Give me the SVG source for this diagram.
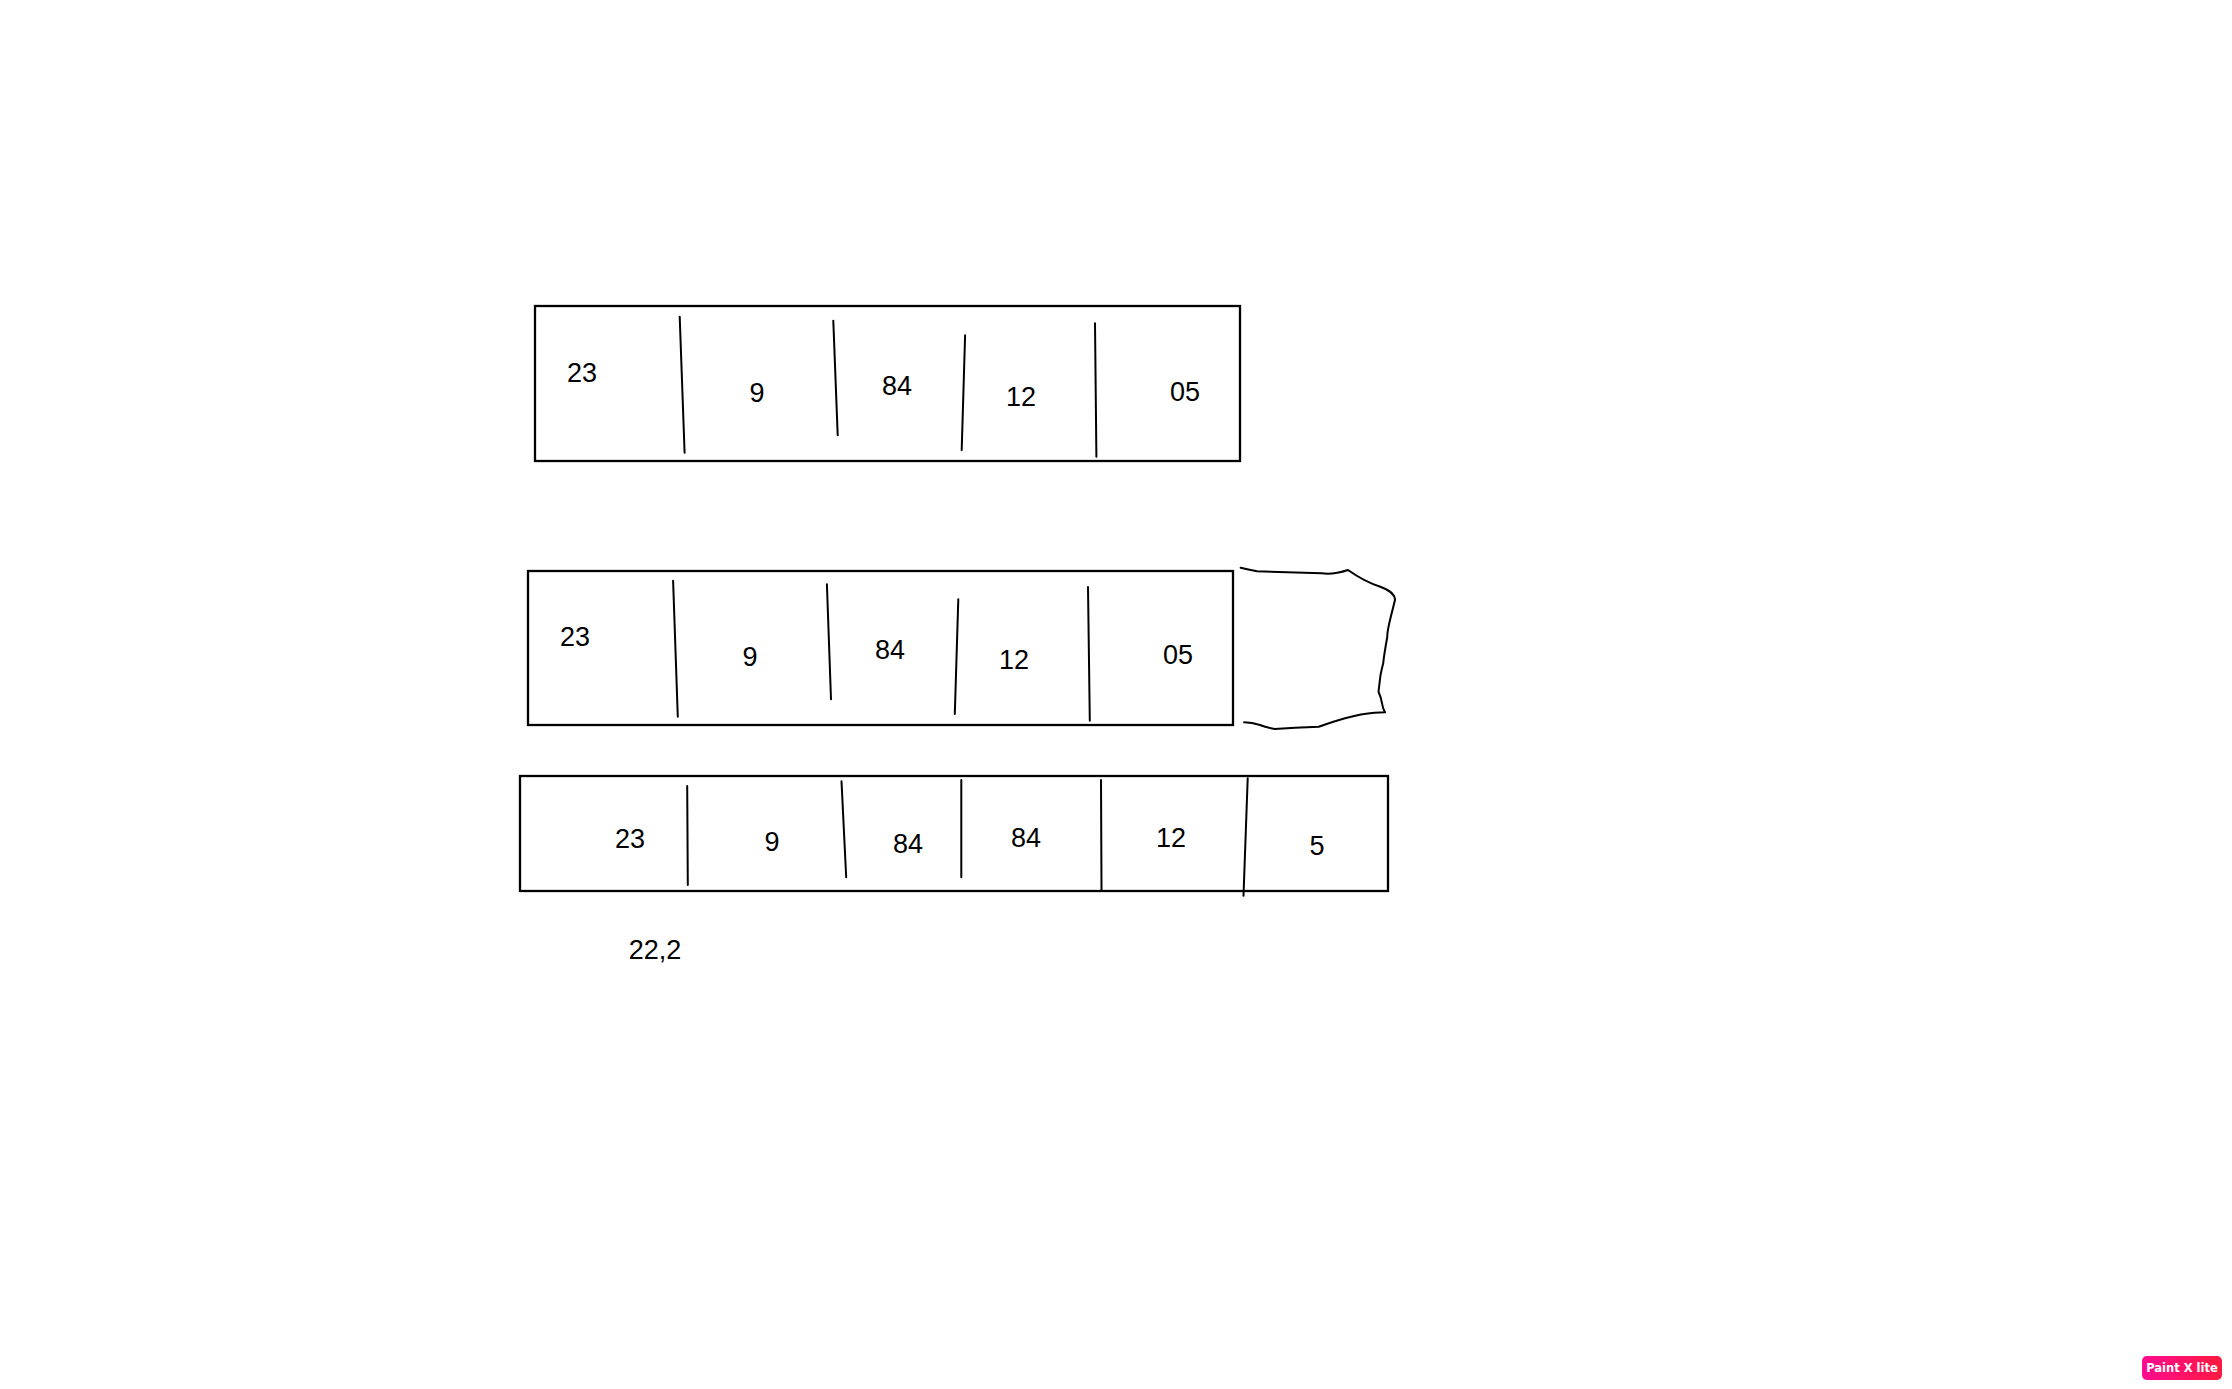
<svg xmlns="http://www.w3.org/2000/svg" width="2232" height="1389" viewBox="0 0 2232 1389">
<style>
.box{fill:none;stroke:#000;stroke-width:2.3}
.div{stroke:#000;stroke-width:2;fill:none;stroke-linecap:round;stroke-linejoin:round}
.t{font-family:"Liberation Sans",Arial,sans-serif;font-size:27px;fill:#000;text-anchor:middle}
.badge{font-family:"DejaVu Sans",sans-serif;font-size:11.5px;font-weight:bold;fill:#fff;text-anchor:middle}
</style>
<defs>
<linearGradient id="bg" x1="0" y1="0" x2="1" y2="0">
<stop offset="0" stop-color="#ff0a90"/>
<stop offset="1" stop-color="#ff1a40"/>
</linearGradient>
</defs>
<rect width="2232" height="1389" fill="#fff"/>
<g id="array1">
<rect class="box" x="535" y="306" width="705" height="155"/>
<text class="t" x="582" y="382">23</text>
<text class="t" x="757" y="402">9</text>
<text class="t" x="897" y="395">84</text>
<text class="t" x="1021" y="406">12</text>
<text class="t" x="1185" y="401">05</text>
</g>
<g id="array2">
<rect class="box" x="528" y="571" width="705" height="154"/>
<text class="t" x="575" y="646">23</text>
<text class="t" x="750" y="666">9</text>
<text class="t" x="890" y="659">84</text>
<text class="t" x="1014" y="669">12</text>
<text class="t" x="1178" y="664">05</text>
</g>
<g id="extension">
<path class="div" d="M1240.6,567.7 Q1248,569.5 1257,571.3 L1321.6,573.3 Q1333,575 1348,570 Q1365,582 1380.3,586.7 Q1395,592 1395,600 Q1392,612 1390.8,616.7 Q1387,632 1387.3,636.7 Q1384,655 1383.2,663.3 Q1381,672 1380.3,676.7 Q1379,688 1378.5,691.7 Q1381,697 1382,703.3 Q1383,709 1385,712.3 L1374.4,712.7 Q1362,713.5 1345,718.3 Q1332,722 1318.7,726.7 L1295.2,727.7 L1274.6,729 Q1265,727 1260,725 Q1252,722.6 1244.1,722.3"/>
</g>
<g id="array3">
<rect class="box" x="520" y="776" width="868" height="115"/>
<text class="t" x="630" y="848">23</text>
<text class="t" x="772" y="851">9</text>
<text class="t" x="908" y="853">84</text>
<text class="t" x="1026" y="847">84</text>
<text class="t" x="1171" y="847">12</text>
<text class="t" x="1317" y="855">5</text>
</g>
<g id="note">
<text class="t" x="655" y="959">22,2</text>
</g>
<g id="connectors">
<line class="div" x1="679.7" y1="316.7" x2="684.6" y2="452.7"/>
<line class="div" x1="833.3" y1="320.7" x2="837.7" y2="435.3"/>
<line class="div" x1="965.1" y1="335.3" x2="961.7" y2="450"/>
<line class="div" x1="1095" y1="323.3" x2="1096.4" y2="456.7"/>
<line class="div" x1="673.1" y1="580.7" x2="677.8" y2="716.7"/>
<line class="div" x1="826.9" y1="584.3" x2="831" y2="699.3"/>
<line class="div" x1="958.3" y1="599.3" x2="954.8" y2="714"/>
<line class="div" x1="1088" y1="587" x2="1089.8" y2="720.7"/>
<line class="div" x1="687.2" y1="786" x2="687.8" y2="885"/>
<line class="div" x1="841.5" y1="781.3" x2="846.2" y2="877.3"/>
<line class="div" x1="961.3" y1="780" x2="961.3" y2="877.3"/>
<line class="div" x1="1101" y1="780" x2="1101.5" y2="890"/>
<line class="div" x1="1247.7" y1="778.3" x2="1243.5" y2="895.7"/>
</g>
<g id="badge">
<rect x="2142" y="1356" width="80" height="24" rx="5" fill="url(#bg)"/>
<text class="badge" x="2182" y="1372">Paint X lite</text>
</g>
</svg>
